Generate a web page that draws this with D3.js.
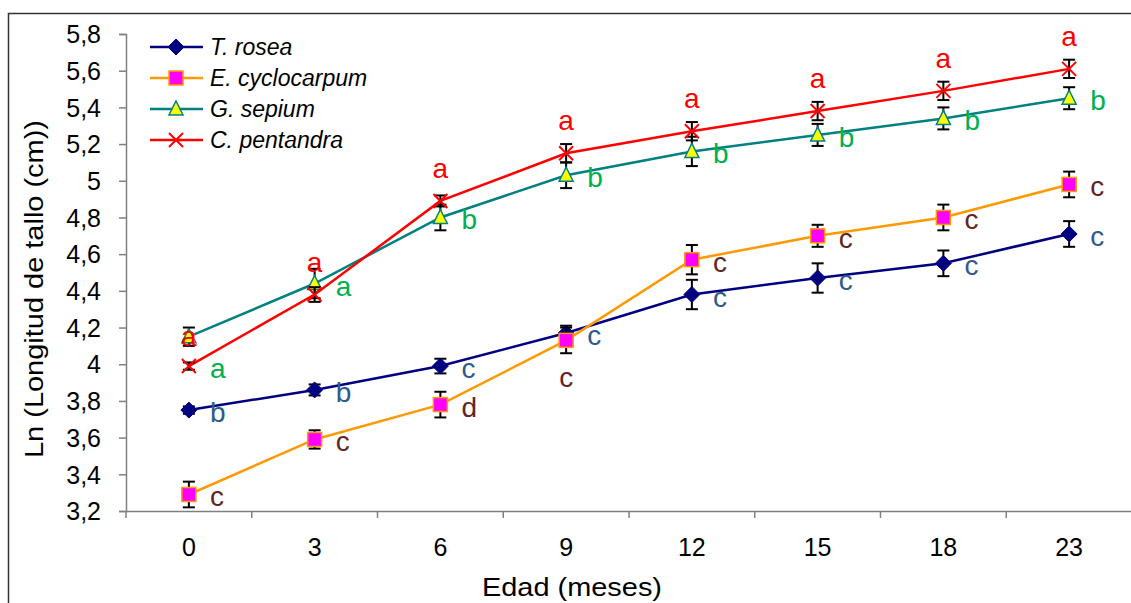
<!DOCTYPE html>
<html>
<head>
<meta charset="utf-8">
<script src="https://cdn.jsdelivr.net/npm/d3@7"></script>
<style>
  body { margin: 0; background: #fff; }
  svg { display: block; font-family: "Liberation Sans", Arial, sans-serif; }
</style>
</head>
<body>
<div class="chart"></div>
<script>
// edad (meses)
var months = ['0', '3', '6', '9', '12', '15', '18', '23'];
var yTicks = [3.2, 3.4, 3.6, 3.8, 4, 4.2, 4.4, 4.6, 4.8, 5, 5.2, 5.4, 5.6, 5.8];

var roseaMean = [3.75, 3.86, 3.99, 4.17, 4.38, 4.47, 4.55, 4.71];
var roseaErr  = [0.02, 0.03, 0.04, 0.04, 0.08, 0.08, 0.07, 0.07];
var roseaLetters = ['b', 'b', 'c', 'c', 'c', 'c', 'c', 'c'];

var cycloMean = [3.29, 3.59, 3.78, 4.13, 4.57, 4.70, 4.80, 4.98];
var cycloErr  = [0.07, 0.05, 0.07, 0.07, 0.08, 0.06, 0.07, 0.07];
var cycloLetters = ['c', 'c', 'd', 'c', 'c', 'c', 'c', 'c'];

var sepiumMean = [4.15, 4.44, 4.80, 5.03, 5.16, 5.25, 5.34, 5.45];
var sepiumErr  = [0.05, 0.08, 0.07, 0.07, 0.08, 0.06, 0.06, 0.06];
var sepiumLetters = ['a', 'a', 'b', 'b', 'b', 'b', 'b', 'b'];

var pentMean = [3.99, 4.38, 4.89, 5.15, 5.27, 5.38, 5.49, 5.61];
var pentErr  = [0.02, 0.04, 0.03, 0.05, 0.05, 0.05, 0.05, 0.05];
var pentLetters = ['a', 'a', 'a', 'a', 'a', 'a', 'a', 'a'];

var series = [
  { name: 'T. rosea', mean: roseaMean, err: roseaErr, letters: roseaLetters,
    line: '#000080', fill: '#000080', stroke: '#000080', shape: 'diamond', letterColor: '#2f5a8c', place: 'right' },
  { name: 'E. cyclocarpum', mean: cycloMean, err: cycloErr, letters: cycloLetters,
    line: '#ff9900', fill: '#ff00ff', stroke: '#ff9900', shape: 'square', letterColor: '#632523', place: 'right' },
  { name: 'G. sepium', mean: sepiumMean, err: sepiumErr, letters: sepiumLetters,
    line: '#008080', fill: '#ffff00', stroke: '#008080', shape: 'triangle', letterColor: '#00b050', place: 'right' },
  { name: 'C. pentandra', mean: pentMean, err: pentErr, letters: pentLetters,
    line: '#ff0000', fill: 'none', stroke: '#ff0000', shape: 'cross', letterColor: '#ff0000', place: 'above' }
];

// letters that were moved by hand in the original: [series, index, anchor series, placement]
var letterOverrides = [
  [3, 0, 2, 'on'],
  [2, 0, 3, 'right'],
  [1, 3, 1, 'below']
];

var W = 1131, H = 603;

var svg = d3.select('.chart').append('svg')
    .attr('width', W)
    .attr('height', H);

// outer frame
svg.append('rect')
    .attr('x', 8.5).attr('y', 13.5)
    .attr('width', W + 10).attr('height', H + 10)
    .attr('fill', 'none')
    .attr('stroke', '#333')
    .attr('stroke-width', 1.5);

var x = d3.scaleBand().domain(months).range([126, 1132]);
var y = d3.scaleLinear().domain([3.2, 5.8]).range([511, 34]);

var fmt = function(d) { return d3.format('.1~f')(d).replace('.', ','); };

var yAxis = svg.append('g')
    .attr('transform', 'translate(126,0)')
    .call(d3.axisLeft(y).tickValues(yTicks).tickSize(7).tickPadding(18).tickFormat(fmt));

var xAxis = svg.append('g')
    .attr('transform', 'translate(0,511)')
    .call(d3.axisBottom(x).tickSize(0).tickPadding(27));

// tick marks on band edges
xAxis.selectAll('.edge')
    .data(months.concat(['end']))
  .enter().append('line')
    .attr('class', 'edge')
    .attr('x1', function(d, i) { return 126 + i * x.step(); })
    .attr('x2', function(d, i) { return 126 + i * x.step(); })
    .attr('y1', 0).attr('y2', 7)
    .attr('stroke', '#808080').attr('stroke-width', 1.5);

[yAxis, xAxis].forEach(function(a) {
  a.select('.domain').attr('stroke', '#808080').attr('stroke-width', 1.5);
  a.selectAll('.tick line').attr('stroke', '#808080').attr('stroke-width', 1.5);
  a.selectAll('.tick text').attr('fill', '#000').style('font-size', '25px')
      .style('font-family', '"Liberation Sans", Arial, sans-serif');
});
yAxis.selectAll('.tick text').attr('dy', '0.35em');

svg.append('text')
    .attr('x', 572).attr('y', 596)
    .attr('text-anchor', 'middle')
    .attr('textLength', 180)
    .attr('lengthAdjust', 'spacingAndGlyphs')
    .style('font-size', '26px')
    .text('Edad (meses)');

svg.append('text')
    .attr('transform', 'translate(43,289) rotate(-90)')
    .attr('text-anchor', 'middle')
    .attr('textLength', 338)
    .attr('lengthAdjust', 'spacingAndGlyphs')
    .style('font-size', '26px')
    .text('Ln (Longitud de tallo (cm))');

var cx = function(i) { return x(months[i]) + x.bandwidth() / 2; };

function marker(g, shape, fill, stroke) {
  if (shape === 'diamond') {
    g.append('path').attr('d', 'M0,-8L8,0L0,8L-8,0Z').attr('fill', fill).attr('stroke', stroke);
  } else if (shape === 'square') {
    g.append('rect').attr('x', -7).attr('y', -7).attr('width', 14).attr('height', 14)
        .attr('fill', fill).attr('stroke', stroke).attr('stroke-width', 1.5);
  } else if (shape === 'triangle') {
    g.append('path').attr('d', 'M0,-8L7,6L-7,6Z').attr('fill', fill)
        .attr('stroke', stroke).attr('stroke-width', 1.5);
  } else {
    g.append('path').attr('d', 'M-7,-7L7,7M-7,7L7,-7').attr('fill', 'none')
        .attr('stroke', stroke).attr('stroke-width', 2);
  }
}

var line = d3.line()
    .x(function(d, i) { return cx(i); })
    .y(function(d) { return y(d); });

series.forEach(function(s) {
  var g = svg.append('g').attr('class', 'series');

  g.append('path')
      .datum(s.mean)
      .attr('d', line)
      .attr('fill', 'none')
      .attr('stroke', s.line)
      .attr('stroke-width', 2.5);

  var eb = g.selectAll('.err')
      .data(s.mean)
    .enter().append('g')
      .attr('class', 'err')
      .attr('stroke', '#000')
      .attr('stroke-width', 2);
  eb.append('line')
      .attr('x1', function(d, i) { return cx(i); })
      .attr('x2', function(d, i) { return cx(i); })
      .attr('y1', function(d, i) { return y(d + s.err[i]); })
      .attr('y2', function(d, i) { return y(d - s.err[i]); });
  [1, -1].forEach(function(sign) {
    eb.append('line')
        .attr('x1', function(d, i) { return cx(i) - 6; })
        .attr('x2', function(d, i) { return cx(i) + 6; })
        .attr('y1', function(d, i) { return y(d + sign * s.err[i]); })
        .attr('y2', function(d, i) { return y(d + sign * s.err[i]); });
  });

  g.selectAll('.pt')
      .data(s.mean)
    .enter().append('g')
      .attr('class', 'pt')
      .attr('transform', function(d, i) { return 'translate(' + cx(i) + ',' + y(d) + ')'; })
      .each(function() { marker(d3.select(this), s.shape, s.fill, s.stroke); });
});

// significance letters
series.forEach(function(s, si) {
  s.letters.forEach(function(l, i) {
    var anchor = si, place = s.place;
    letterOverrides.forEach(function(o) {
      if (o[0] === si && o[1] === i) { anchor = o[2]; place = o[3]; }
    });
    var px = cx(i), py = y(series[anchor].mean[i]);
    var t = svg.append('text')
        .attr('fill', s.letterColor)
        .style('font-size', '28px')
        .text(l);
    if (place === 'right') {
      t.attr('x', px + 21).attr('y', py + 12);
    } else if (place === 'above') {
      t.attr('x', px).attr('y', py - 23).attr('text-anchor', 'middle');
    } else if (place === 'below') {
      t.attr('x', px).attr('y', py + 47).attr('text-anchor', 'middle');
    } else {
      t.attr('x', px).attr('y', py + 9).attr('text-anchor', 'middle');
    }
  });
});

// legend
var legend = svg.append('g').attr('transform', 'translate(150,47)');
var rows = legend.selectAll('.row')
    .data(series)
  .enter().append('g')
    .attr('class', 'row')
    .attr('transform', function(d, i) { return 'translate(0,' + i * 31 + ')'; });
rows.append('line')
    .attr('x1', 0).attr('x2', 53)
    .attr('stroke', function(d) { return d.line; })
    .attr('stroke-width', 2.5);
rows.each(function(d) {
  var m = d3.select(this).append('g').attr('transform', 'translate(26,0)');
  marker(m, d.shape, d.fill, d.stroke);
});
rows.append('text')
    .attr('x', 60).attr('dy', '0.35em')
    .style('font-size', '23px')
    .style('font-style', 'italic')
    .text(function(d) { return d.name; });
</script>
</body>
</html>
